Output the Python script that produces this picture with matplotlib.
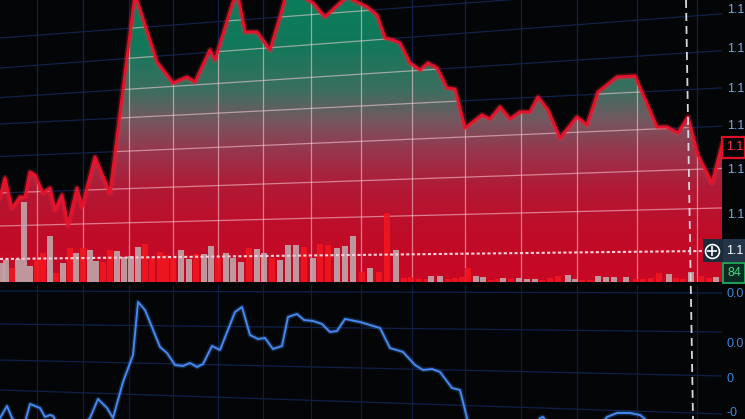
import matplotlib
matplotlib.use('Agg')
import matplotlib.pyplot as plt
import numpy as np
from matplotlib.patches import Rectangle
from matplotlib.lines import Line2D

# ---------------- data ----------------
price_t = [0, 5, 12, 20, 25, 30, 35, 43, 50, 55, 62, 68, 77, 82, 95, 110, 135, 157, 173, 180,
           187, 195, 210, 215, 233, 238, 245, 257, 270, 280, 286, 300, 313, 325, 340, 347, 357,
           367, 377, 385, 393, 400, 410, 420, 428, 437, 447, 455, 465, 482, 490, 500, 510, 520,
           530, 538, 548, 560, 577, 587, 598, 617, 635, 657, 667, 678, 688, 698, 712, 722]
price_v = [85, 104, 74, 85, 85, 110, 107, 89, 94, 72, 87, 57, 94, 75, 125, 89, 288, 220, 199, 202,
           205, 200, 232, 222, 280, 286, 250, 250, 232, 265, 287, 287, 279, 265, 279, 285, 280,
           275, 267, 244, 242, 239, 219, 212, 219, 214, 194, 193, 154, 167, 163, 175, 163, 170,
           170, 185, 172, 144, 165, 157, 190, 205, 206, 155, 155, 149, 165, 127, 99, 137]

vol_t = [1.5, 5.5, 11.5, 18, 24, 30, 37, 43, 50, 56, 63, 70, 76, 83, 90, 96, 103, 110, 117, 124,
         131, 138, 145, 152, 160, 166, 173, 181, 189, 196, 204, 211, 218, 226, 233, 241, 249, 257,
         264, 272, 280, 288, 296, 304, 313, 320, 328, 337, 345, 353, 362, 370, 379, 387, 396,
         404, 411, 419, 427, 431, 440, 448, 455, 462, 468, 476, 483, 491, 498, 503, 511, 519, 527,
         535, 542, 550, 558, 568, 575, 582, 590, 598, 606, 614, 626, 636, 643, 651, 659, 669, 676,
         683, 691, 701, 709, 716]
vol_v = [19, 22, 14, 23, 80, 16, 22, 29, 46, 9, 19, 34, 29, 34, 32, 21, 20, 32, 31, 25,
         26, 35, 38, 24, 30, 27, 25, 32, 23, 28, 28, 36, 24, 29, 24, 20, 34, 33,
         29, 24, 22, 37, 37, 35, 24, 38, 37, 34, 36, 46, 10, 14, 10, 69, 32,
         4, 5, 3, 3, 6, 6, 3, 4, 5, 14, 6, 5, 2, 3, 4, 3, 4, 3,
         3, 2, 4, 6, 7, 3, 2, 2, 6, 5, 5, 5, 3, 3, 4, 9, 8, 4,
         3, 10, 6, 4, 5]
vol_side = list("ggrggg" "rrgrgr" "grggrr" "gggg" "rrrrr" "ggrggr" "gggr" "ggrggg" "rgrrggg" "rgrrg"
                "rrrrgg" "rrrr" "ggrrgrgggrrrggrrggggrrrrgrrgrrg")

osc_t = [0, 7, 12, 18, 25, 30, 35, 40, 45, 50, 53, 57, 75, 90, 98, 107, 113, 123, 133, 138, 145,
         160, 167, 175, 183, 190, 197, 203, 212, 220, 235, 242, 250, 258, 265, 273, 282, 288,
         297, 304, 313, 322, 330, 337, 345, 355, 360, 380, 390, 403, 415, 423, 432, 440, 452,
         460, 467, 475, 530, 540, 543, 546, 560, 595, 607, 617, 630, 640, 645, 660, 722]
osc_v = [-41, -29, -41, -48, -45, -27, -29, -31, -40, -38, -39, -46, -55, -41, -22, -31, -41, -5,
         22, 75, 67, 30, 24, 12, 11, 14, 10, 13, 31, 27, 65, 70, 42, 38, 39, 28, 31, 60, 63, 57,
         56, 53, 45, 46, 58, 56, 55, 49, 29, 25, 12, 7, 8, 5, -11, -13, -41, -60, -60, -41, -40,
         -44, -60, -55, -40, -36, -36, -38, -42, -60, -60]

price_tick_pos = [274, 235, 195, 158, 114, 69]
price_tick_lbl = ['1.1', '1.1', '1.1', '1.1', '1.1', '1.1']
osc_tick_pos = [85, 35, 0, -34]
osc_tick_lbl = ['0.0', '0.0', '0', '-0']
last_price_lbl = '1.1'
cross_price_lbl = '1.1'
cross_vol_lbl = '84'

# ---------------- figure ----------------
W, H = 745, 419
BG = '#040506'
FS = 9
fig = plt.figure(figsize=(W / 100, H / 100), dpi=100)
fig.patch.set_facecolor(BG)
plt.rcParams['font.family'] = ['Liberation Sans', 'DejaVu Sans']


def fx(x):
    return x / W


def fy(y):
    return 1 - y / H


ax1 = fig.add_axes([0, 1 - 282 / H, 722 / W, 282 / H])
ax2 = fig.add_axes([0, 0, 722 / W, 134 / H])
for ax in (ax1, ax2):
    ax.set_facecolor(BG)
    for s in ax.spines.values():
        s.set_visible(False)
    ax.set_xticks([])
    ax.yaxis.tick_right()
    ax.tick_params(axis='y', length=0, pad=3.5, labelsize=FS)
ax1.set_xlim(0, 722)
ax1.set_ylim(0, 282)
ax2.set_xlim(0, 722)
ax2.set_ylim(-42, 92)
ax1.set_yticks(price_tick_pos)
ax1.set_yticklabels(price_tick_lbl, color='#7fa8dc')
ax2.set_yticks(osc_tick_pos)
ax2.set_yticklabels(osc_tick_lbl, color='#3f88d8')

xs = np.array([0, 722])
vgrid = [37, 83, 129, 173, 218, 263, 311, 361, 412, 465, 521, 577, 637, 697]
hgrid = [(277, 0.075), (247, 0.075), (213, 0.065), (180, 0.05), (144, 0.042), (104, 0.034), (67, 0.025)]

# navy grid (top)
for L, s in hgrid:
    ax1.plot(xs, L + s * (xs - 440), color='#13214a', lw=0.9, zorder=1)
for v in vgrid:
    ax1.plot([v, v], [0, 282], color='#13214a', lw=0.9, zorder=1)

# gradient fill under price
fill = ax1.fill_between(price_t, price_v, 0, facecolor='none', edgecolor='none')
clip = fill.get_paths()[0]
stops_y = [0, 45, 90, 120, 150, 190, 235, 282]
stops_c = np.array([(10, 125, 90), (18, 120, 90), (60, 110, 95), (115, 88, 96), (150, 55, 78),
                    (178, 24, 52), (192, 12, 40), (200, 8, 36)]) / 255.0
lev = np.arange(283)
ypx = 282 - lev
img = np.stack([np.interp(ypx, stops_y, stops_c[:, k]) for k in range(3)], axis=-1)[:, None, :]
im = ax1.imshow(img, origin='lower', extent=[0, 722, 0, 282], aspect='auto', zorder=2,
                interpolation='bilinear')
im.set_clip_path(clip, ax1.transData)

# light grid inside fill
for L, s in hgrid:
    ln, = ax1.plot(xs, L + s * (xs - 440), color='#ffd3de', lw=0.9, alpha=0.55, zorder=3)
    ln.set_clip_path(clip, ax1.transData)
for v in vgrid:
    ln, = ax1.plot([v, v], [0, 282], color='#ffd3de', lw=0.9, alpha=0.55, zorder=3)
    ln.set_clip_path(clip, ax1.transData)

# volume bars
cols = ['#bea6a9' if c == 'g' else '#f0161f' for c in vol_side]
ax1.bar(vol_t, vol_v, width=6, color=cols, alpha=0.9, zorder=4, linewidth=0)

# price line
ax1.plot(price_t, price_v, color='#ff2a40', lw=4.5, alpha=0.25, zorder=5,
         solid_joinstyle='round')
ax1.plot(price_t, price_v, color='#e5122c', lw=2.1, zorder=6, solid_joinstyle='round')

# horizontal crosshair
ax1.plot([0, 703], [23, 31], color='#f6d0d8', lw=1.5, dashes=(1.5, 1.1), zorder=7)

# bottom panel grid
bgrid = [(86, 84), (53, 45), (17, 1), (-13, -37)]
for a, b in bgrid:
    ax2.plot(xs, [a, b], color='#10204a', lw=0.9, zorder=1)
for v in vgrid:
    ax2.plot([v, v], [-42, 92], color='#0f1c42', lw=0.9, zorder=1)

ax2.plot(osc_t, osc_v, color='#3d7fe6', lw=3.5, alpha=0.25, zorder=3)
ax2.plot(osc_t, osc_v, color='#4688ee', lw=1.4, zorder=4)

# vertical crosshair
fig.add_artist(Line2D([fx(686), fx(693)], [fy(0), fy(419)], transform=fig.transFigure,
                      color='#d8d8dc', lw=1.3, dashes=(4.4, 2.8), zorder=10))


def box(x, y, w, h, fc, ec=None, lw=0):
    fig.add_artist(Rectangle((fx(x), fy(y + h)), w / W, h / H, transform=fig.transFigure,
                             facecolor=fc, edgecolor=ec if ec else fc, lw=lw, zorder=11))


# last price tag
box(722, 137, 23, 21, BG, '#e0102a', 1.6)
fig.text(fx(726), fy(147), last_price_lbl, color='#ff3447', fontsize=FS, va='center',
         ha='left', zorder=12)
# crosshair tag
box(703, 239, 20, 23, '#1d2a3a')
box(723, 239, 22, 23, '#243447')
fig.add_artist(Line2D([fx(712)], [fy(251)], marker='o', markersize=10, mfc='none', mec='white',
                      mew=1.2, transform=fig.transFigure, zorder=12))
fig.add_artist(Line2D([fx(712)], [fy(251)], marker='+', markersize=7, mec='white',
                      mew=1.2, transform=fig.transFigure, zorder=12))
fig.text(fx(726), fy(251), cross_price_lbl, color='white', fontsize=FS, va='center',
         ha='left', zorder=12)
# volume tag
box(723, 263, 22, 20, '#0b2a22', '#27b565', 1.2)
fig.text(fx(727), fy(273), cross_vol_lbl, color='#3ddc84', fontsize=FS, va='center',
         ha='left', zorder=12)

fig.savefig('out.png', dpi=100, facecolor=BG)
